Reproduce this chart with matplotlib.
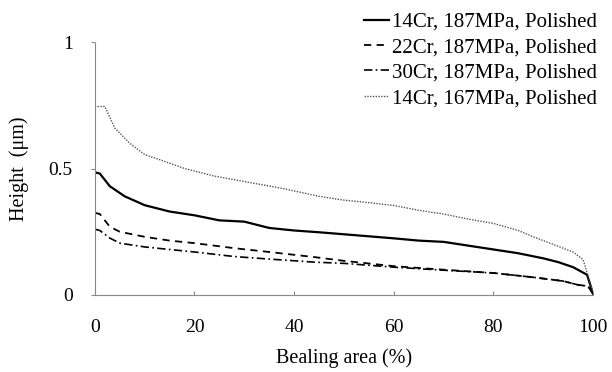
import matplotlib
matplotlib.use('Agg')
import matplotlib.pyplot as plt

# bearing area (%) and height (um)
x_14_187 = [0, 1, 3, 6, 10, 15, 20, 25, 30, 35, 40, 45, 50, 55, 60, 65, 70, 75, 80, 85, 90, 93, 96, 98.8, 100]
h_14_187 = [0.485, 0.48, 0.43, 0.39, 0.355, 0.33, 0.315, 0.295, 0.29, 0.265, 0.255, 0.248, 0.24, 0.232, 0.224, 0.215, 0.21, 0.195, 0.18, 0.165, 0.145, 0.13, 0.11, 0.08, 0.005]

x_22_187 = [0, 1, 3, 5, 10, 15, 20, 28, 35, 44, 50, 60, 70, 80, 88, 94, 97, 99, 100]
h_22_187 = [0.325, 0.32, 0.27, 0.25, 0.23, 0.215, 0.205, 0.185, 0.17, 0.15, 0.135, 0.114, 0.1, 0.087, 0.07, 0.055, 0.04, 0.035, 0.005]

x_30_187 = [0, 1, 3, 5, 10, 15, 20, 28, 35, 44, 50, 60, 70, 80, 88, 94, 97, 99, 100]
h_30_187 = [0.26, 0.255, 0.225, 0.205, 0.19, 0.18, 0.17, 0.152, 0.142, 0.13, 0.125, 0.11, 0.098, 0.087, 0.07, 0.055, 0.04, 0.035, 0.005]

x_14_167 = [0, 2, 4, 7, 10, 13, 18, 24, 31, 38, 45, 50, 55, 60, 65, 70, 75, 80, 85, 88, 92, 96, 98, 100]
h_14_167 = [0.745, 0.745, 0.66, 0.6, 0.555, 0.535, 0.5, 0.47, 0.445, 0.42, 0.39, 0.375, 0.365, 0.354, 0.335, 0.32, 0.3, 0.283, 0.255, 0.23, 0.2, 0.17, 0.14, 0.01]

labels = ['14Cr, 187MPa, Polished', '22Cr, 187MPa, Polished',
          '30Cr, 187MPa, Polished', '14Cr, 167MPa, Polished']

plt.rcParams['font.family'] = ['Liberation Serif', 'DejaVu Serif']
plt.rcParams['font.size'] = 14

fig = plt.figure(figsize=(6.12, 3.72), dpi=100)
ax = fig.add_axes([0.155, 0.207, 0.814, 0.68])

ax.plot(x_14_187, h_14_187, color='black', lw=1.6, linestyle='-', label=labels[0])
ax.plot(x_22_187, h_22_187, color='black', lw=1.3, linestyle=(0, (4, 3)), label=labels[1])
ax.plot(x_30_187, h_30_187, color='black', lw=1.2, linestyle=(0, (5, 2, 1, 2)), label=labels[2])
ax.plot(x_14_167, h_14_167, color='#555555', lw=1.0, linestyle=(0, (1, 1)), label=labels[3])

ax.set_xlim(0, 100)
ax.set_ylim(0, 1)
ax.set_xticks([0, 20, 40, 60, 80, 100])
ax.set_yticks([0, 0.5, 1])
ax.set_yticklabels(['0', '0.5', '1'])
ax.tick_params(axis='x', direction='in', length=3, pad=17, color='#888888')
ax.tick_params(axis='y', direction='out', length=3, pad=13, color='#888888')

for s in ['top', 'right']:
    ax.spines[s].set_visible(False)
for s in ['left', 'bottom']:
    ax.spines[s].set_color('#888888')
    ax.spines[s].set_linestyle((0, (1, 1)))
    ax.spines[s].set_linewidth(0.8)

ax.set_xlabel('Bealing area (%)', labelpad=9, fontsize=14.5)
ax.set_ylabel('Height  (\u03bcm)', labelpad=14, fontsize=14.5)

ax.legend(loc='upper left', bbox_to_anchor=(0.577, 0.995), bbox_transform=fig.transFigure,
          frameon=False, borderpad=0, handlelength=1.2, handletextpad=0.15,
          labelspacing=0.28, fontsize=15)

fig.savefig('out.png', dpi=100)
